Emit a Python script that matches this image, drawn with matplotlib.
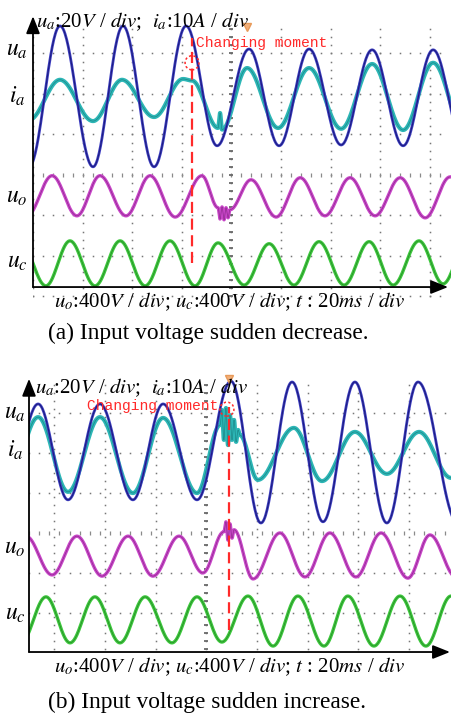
import numpy as np
import matplotlib
matplotlib.use('Agg')
import matplotlib.pyplot as plt
from matplotlib.patches import Ellipse

plt.rcParams['font.family'] = ['Liberation Serif', 'DejaVu Serif']
plt.rcParams['mathtext.fontset'] = 'stix'

W, H = 452, 715

# ---------------- data (time in ms, level in screen divisions) ----------------
# panel (a): input voltage sudden decrease
a_ua_t = [-1.6, 10.9, 24.2, 36.3, 48.8, 61.7, 74.2, 87.1, 99.2, 111.3, 124.2, 136.7, 149.2, 161.3, 173.8]
a_ua_v = [0.20, 3.68, 0.20, 3.68, 0.20, 3.68, 0.72, 3.11, 0.72, 3.11, 0.74, 3.09, 0.72, 3.09, 0.72]
a_ia_t = [-1.6, 10.9, 24.2, 35.9, 48.8, 60.5, 64.1, 74.6, 75.4, 76.2, 86.3, 98.8, 111.3, 124.2, 136.7, 149.2, 161.3, 173.8]
a_ia_v = [1.36, 2.35, 1.33, 2.35, 1.43, 2.37, 2.33, 1.16, 1.53, 1.12, 2.64, 1.16, 2.64, 1.14, 2.74, 1.11, 2.77, 1.11]
a_uo_t = [-2.4, 7.7, 17.7, 27.0, 37.5, 47.2, 57.3, 68.1, 74.6, 75.4, 76.2, 77.0, 77.8, 78.6, 79.4,
          87.9, 98.0, 107.7, 117.7, 127.8, 137.9, 148.0, 158.1, 168.1]
a_uo_v = [-1.01, -0.02, -1.01, -0.02, -1.01, -0.02, -1.04, -0.02, -0.81, -1.09, -0.79, -1.11, -0.81, -1.06, -0.86,
          -0.12, -1.04, -0.07, -1.01, -0.07, -1.01, -0.07, -1.06, -0.05]
a_uc_t = [-5.2, 5.2, 14.9, 25.0, 35.1, 45.2, 55.2, 65.3, 74.6, 85.1, 95.2, 105.2, 115.3, 125.4, 135.5, 145.2, 155.6, 165.3, 175.0]
a_uc_v = [-1.63, -2.74, -1.63, -2.74, -1.63, -2.74, -1.63, -2.74, -1.68, -2.72, -1.70, -2.72, -1.65, -2.72, -1.65, -2.72, -1.63, -2.69, -1.63]
a_change_t = 64.1
a_change_span = [-2.17, 3.38]
a_circle = [64.1, 2.77]
a_trigger = [86.3, 3.65]

# panel (b): input voltage sudden increase
b_ua_t = [-9.1, 3.6, 15.4, 28.0, 41.0, 52.9, 66.3, 79.7, 91.5, 103.8, 116.0, 128.6, 141.2, 153.5, 169.2]
b_ua_v = [0.83, 3.23, 0.83, 3.23, 0.83, 3.23, 0.83, 3.80, 0.25, 3.78, 0.28, 3.78, 0.25, 3.78, 0.25]
b_ia_t = [-9.1, 3.6, 15.4, 28.0, 41.0, 52.9, 66.3, 75.4, 76.1, 76.9, 77.7, 78.5, 79.3, 80.1, 80.9, 81.7, 82.5, 83.2,
          90.3, 104.5, 115.6, 128.6, 141.2, 153.9, 166.5]
b_ia_v = [1.0, 2.9, 1.03, 2.9, 1.0, 2.88, 1.0, 2.7, 3.08, 2.33, 3.13, 2.2, 2.95, 2.33, 2.83, 2.28, 2.58, 2.45,
          1.33, 2.63, 1.3, 2.53, 1.48, 2.53, 1.38]
b_uo_t = [-1.2, 9.1, 18.9, 28.8, 39.1, 48.9, 59.2, 68.6, 76.9, 77.7, 78.5, 79.3, 80.1, 80.9,
          88.4, 99.0, 108.9, 118.7, 129.0, 138.9, 149.5, 158.2, 168.5]
b_uo_v = [-0.08, -1.05, -0.08, -1.08, -0.08, -1.08, -0.08, -1.0, 0.03, 0.28, -0.18, 0.23, -0.13, 0.08,
          -1.15, 0.0, -1.1, 0.0, -1.1, 0.0, -1.13, -0.05, -1.1]
b_uc_t = [-3.2, 6.7, 16.2, 26.0, 35.9, 45.8, 56.4, 66.3, 76.1, 86.4, 96.3, 106.1, 116.4, 125.8, 136.1, 146.4, 156.6, 166.5, 176.0]
b_uc_v = [-2.75, -1.6, -2.75, -1.6, -2.75, -1.6, -2.75, -1.6, -2.73, -1.58, -2.83, -1.58, -2.83, -1.58, -2.83, -1.58, -2.83, -1.58, -2.83]
b_change_t = 78.9
b_change_span = [-2.43, 3.15]
b_circle = [78.1, 3.1]
b_trigger = [78.9, 3.85]

top_label = r'$u_a$:20$V$ / $div$;  $i_a$:10$A$ / $div$'
bottom_label = r'$u_o$:400$V$ / $div$; $u_c$:400$V$ / $div$; $t$ : 20$ms$ / $div$'
captions = ['(a) Input voltage sudden decrease.', '(b) Input voltage sudden increase.']
channel_names = [r'$u_a$', r'$i_a$', r'$u_o$', r'$u_c$']
change_text = 'Changing moment'

# ---------------- helpers ----------------
def wave(t, v, n=40):
    t = np.asarray(t, float); v = np.asarray(v, float)
    xs, ys = [], []
    for i in range(len(t) - 1):
        s = np.linspace(0, 1, n, endpoint=False)
        xs.append(t[i] + (t[i + 1] - t[i]) * s)
        ys.append(v[i] + (v[i + 1] - v[i]) * (1 - np.cos(np.pi * s)) / 2)
    xs.append([t[-1]]); ys.append([v[-1]])
    return np.concatenate(xs), np.concatenate(ys)

fig = plt.figure(figsize=(W / 100, H / 100), dpi=100)

def ftext(x, y, s, **kw):
    fig.text(x / W, 1 - y / H, s, **kw)

def make_ax(lpx, rpx, tpx, bpx, xlim, ylim):
    ax = fig.add_axes([lpx / W, 1 - bpx / H, (rpx - lpx) / W, (bpx - tpx) / H])
    ax.set_xlim(xlim); ax.set_ylim(ylim); ax.axis('off')
    return ax

GRID = '#777777'

def graticule(ax, cols, rows, ybot, ytop, xmax, ccol):
    for c in cols:
        ys = np.arange(ybot, ytop, 0.2)
        ax.plot(np.full_like(ys, c), ys, ls='none', marker='s', ms=1.1, color=GRID, mew=0)
    for r in rows:
        xs = np.arange(0, xmax, 4.0)
        ax.plot(xs, np.full_like(xs, r), ls='none', marker='s', ms=1.1, color=GRID, mew=0)
    # centre row & column minor ticks
    xs = np.arange(0, xmax, 4.0)
    ax.plot(xs, np.zeros_like(xs), ls='none', marker='|', ms=3.2, mew=0.9, color='#8a8a8a')
    ys = np.arange(ybot, ytop, 0.2)
    ax.plot(np.full_like(ys, ccol), ys, ls='none', marker='_', ms=3.5, mew=1.3, color='#6a6a6a')

def traces(ax, ua, ia, uo, uc):
    x, y = wave(*ia); ax.plot(x, y, color='#2db6b6', lw=3.0, solid_capstyle='round', zorder=3)
    ax.plot(x, y, color='#0f6a6a', lw=0.5, alpha=0.6, zorder=3)
    x, y = wave(*ua); ax.plot(x, y, color='#4040c4', lw=2.0, zorder=4)
    ax.plot(x, y, color='#141470', lw=0.8, alpha=0.8, zorder=4)
    x, y = wave(*uo); ax.plot(x, y, color='#c845c8', lw=2.4, zorder=3)
    ax.plot(x, y, color='#6a1a6a', lw=0.5, alpha=0.6, zorder=3)
    x, y = wave(*uc); ax.plot(x, y, color='#3cc83c', lw=2.4, zorder=3)
    ax.plot(x, y, color='#1a5a1a', lw=0.5, alpha=0.6, zorder=3)

def axes_arrows(ax, yaxis, ytop, xtip):
    ap = dict(arrowstyle='-|>,head_length=0.75,head_width=0.3', color='k', lw=1.3,
              mutation_scale=14, shrinkA=0, shrinkB=0)
    ax.annotate('', xy=(0, ytop), xytext=(0, yaxis), arrowprops=ap, annotation_clip=False, zorder=6)
    ax.annotate('', xy=(xtip, yaxis), xytext=(0, yaxis), arrowprops=ap, annotation_clip=False, zorder=6)

def change_marks(ax, t, span, circ, trig, cw, ch):
    ax.plot([t, t], span, color='#ff2a2a', lw=1.6, ls=(0, (5, 2.5)), zorder=7)
    ax.add_patch(Ellipse(circ, cw, ch, fill=False, ec='#ff2a2a', lw=1.1, ls=(0, (1.5, 1.5)), zorder=7))
    ax.plot([trig[0]], [trig[1]], marker='v', ms=6, color='#f2b07a', mec='#e89a5a', zorder=7, clip_on=False)

# ---------------- panel (a) ----------------
axa = make_ax(33, 452, 13, 300, (0, 168.9), (-3.09, 4.0))
graticule(axa, cols=np.arange(0, 161, 20), rows=[3, 2, 1, -1, -2, -3], ybot=-3.0, ytop=3.8,
          xmax=168, ccol=80)
traces(axa, (a_ua_t, a_ua_v), (a_ia_t, a_ia_v), (a_uo_t, a_uo_v), (a_uc_t, a_uc_v))
axes_arrows(axa, -2.77, 3.92, 167.3)
change_marks(axa, a_change_t, a_change_span, a_circle, a_trigger, 5.6, 0.35)

# ---------------- panel (b) ----------------
axb = make_ax(29, 452, 372, 660, (0, 166.9), (-3.18, 4.03))
graticule(axb, cols=np.arange(10, 151, 20), rows=[3, 2, 1, -1, -2], ybot=-2.9, ytop=3.85,
          xmax=166, ccol=70)
traces(axb, (b_ua_t, b_ua_v), (b_ia_t, b_ia_v), (b_uo_t, b_uo_v), (b_uc_t, b_uc_v))
axes_arrows(axb, -2.98, 3.86, 166.1)
change_marks(axb, b_change_t, b_change_span, b_circle, b_trigger, 5.5, 0.35)

# ---------------- texts ----------------
ftext(36, 22, top_label, ha='left', va='center', fontsize=15)
ftext(35, 388, top_label, ha='left', va='center', fontsize=15)
ftext(230, 302, bottom_label, ha='center', va='center', fontsize=15)
ftext(230, 667, bottom_label, ha='center', va='center', fontsize=15)
ftext(48, 333, captions[0], ha='left', va='center', fontsize=16.8)
ftext(48, 702, captions[1], ha='left', va='center', fontsize=16.8)

for name, y in zip(channel_names, [50, 96, 198, 262]):
    ftext(17, y, name, ha='center', va='center', fontsize=17)
for name, y in zip(channel_names, [413, 450, 549, 615]):
    ftext(15, y, name, ha='center', va='center', fontsize=17)

ftext(196, 43, change_text, ha='left', va='center', fontsize=10.5, color='#ff2a2a', family='Liberation Mono')
ftext(87, 406, change_text, ha='left', va='center', fontsize=10.5, color='#ff2a2a', family='Liberation Mono')

fig.savefig('out.png', dpi=100)
